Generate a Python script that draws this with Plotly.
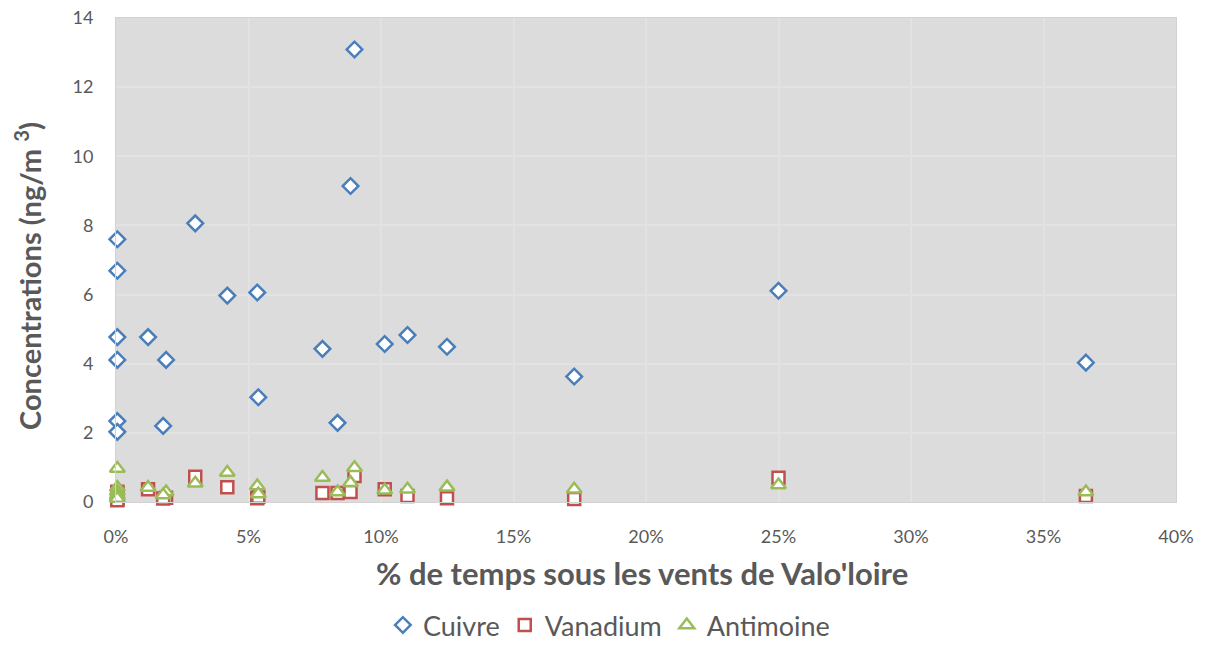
import plotly.graph_objects as go

# % de temps sous les vents (x) for each site
x_pct = [0.05, 0.05, 0.05, 0.05, 0.05, 0.05, 1.21, 1.89, 1.78, 2.99, 4.2, 5.33, 5.37,
         7.79, 8.36, 8.85, 9.0, 10.14, 11.0, 12.49, 17.29, 25.0, 36.6]
cuivre = [7.6, 6.69, 4.77, 4.11, 2.34, 2.03, 4.77, 4.11, 2.2, 8.06, 5.97, 6.06, 3.03,
          4.43, 2.29, 9.14, 13.09, 4.57, 4.83, 4.49, 3.63, 6.11, 4.03]
vanadium = [0.3, 0.25, 0.15, 0.1, 0.08, 0.05, 0.37, 0.12, 0.1, 0.73, 0.43, 0.11, 0.15,
            0.26, 0.26, 0.29, 0.75, 0.37, 0.17, 0.11, 0.09, 0.7, 0.17]
antimoine = [0.97, 0.42, 0.3, 0.2, 0.15, 0.1, 0.42, 0.29, 0.2, 0.54, 0.85, 0.46, 0.23,
             0.71, 0.29, 0.56, 0.99, 0.34, 0.37, 0.43, 0.37, 0.49, 0.29]

series = [
    ("Cuivre", cuivre, "diamond", "#4A7EBB", 12),
    ("Vanadium", vanadium, "square", "#C0504D", 12),
    ("Antimoine", antimoine, "triangle-up", "#9BBB59", 13),
]

x_title = "% de temps sous les vents de Valo'loire"
y_title = "Concentrations (ng/m <sup>3</sup>)"

fig = go.Figure()
for name, vals, sym, col, sz in series:
    fig.add_trace(go.Scatter(
        x=x_pct, y=vals, mode="markers", name=name, cliponaxis=False,
        marker=dict(symbol=sym, size=sz, color="white", line=dict(width=2.5, color=col)),
    ))

font_family = "Lato, 'Open Sans', sans-serif"
fig.update_layout(
    width=1207, height=652,
    paper_bgcolor="white", plot_bgcolor="#dcdcdc",
    margin=dict(l=108, r=39, t=10, b=152),
    font=dict(family=font_family, color="#595959", size=18),
    showlegend=True,
    legend=dict(orientation="h", x=0.465, xanchor="center", y=-0.255, yanchor="middle",
                font=dict(size=27, color="#595959"), traceorder="normal"),
    xaxis=dict(range=[0, 40], dtick=5, ticksuffix="%", showgrid=True, automargin=False,
               gridcolor="#e2e2e2", gridwidth=1.5, zeroline=False, showline=True,
               linecolor="#d2d2d2", linewidth=1, mirror=True, ticklabelstandoff=18,
               ticklabeloverflow="allow",
               ticks="", tickfont=dict(size=18, color="#595959")),
    yaxis=dict(range=[0, 14], dtick=2, showgrid=True, gridcolor="#e2e2e2", gridwidth=1.5,
               automargin=False, zeroline=False, showline=True, linecolor="#d2d2d2",
               linewidth=1, mirror=True, ticklabelstandoff=18, ticklabeloverflow="allow",
               ticks="", tickfont=dict(size=18, color="#595959")),
    annotations=[
        dict(text="<b>" + x_title + "</b>", xref="paper", yref="paper",
             x=0.496, y=-0.147, xanchor="center", yanchor="middle", showarrow=False,
             font=dict(size=31, color="#595959")),
        dict(text="<b>" + y_title + "</b>", xref="paper", yref="paper",
             x=(28 - 116) / 1060, y=0.467, xanchor="center", yanchor="middle",
             textangle=-90, showarrow=False, font=dict(size=29, color="#595959")),
    ],
)

fig.write_html("out.html")
